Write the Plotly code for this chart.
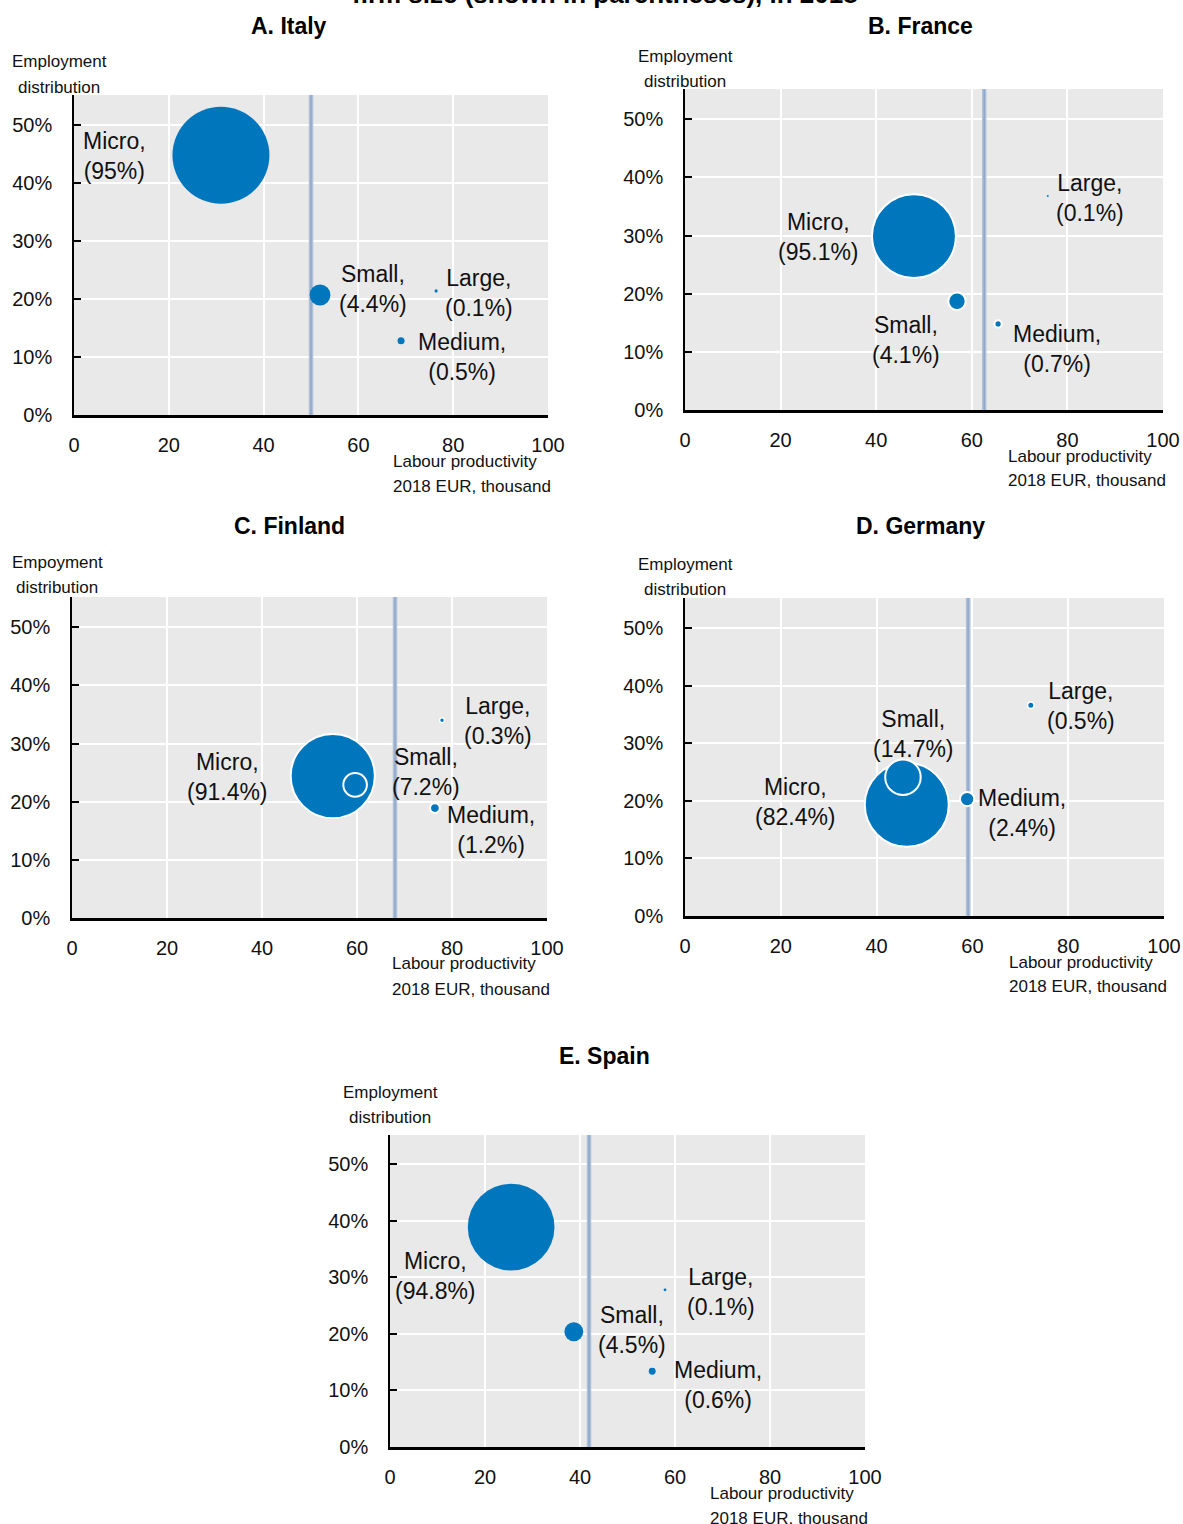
import math
import plotly.graph_objects as go

W, H = 1183, 1524

# ---------------- data ----------------
SIZE_CLASSES = ["Micro", "Small", "Medium", "Large"]
PANEL_TITLES = ["A. Italy", "B. France", "C. Finland", "D. Germany", "E. Spain"]
Y_TITLES = [["Employment", "distribution"], ["Employment", "distribution"],
            ["Empoyment", "distribution"], ["Employment", "distribution"],
            ["Employment", "distribution"]]
X_TITLE = ["Labour productivity", "2018 EUR, thousand"]
TOP_TITLE = "firm size (shown in parentheses), in 2018"
X_TICKS = [0, 20, 40, 60, 80, 100]
Y_TICKS = [0, 10, 20, 30, 40, 50]
Y_TICK_LABELS = ["0%", "10%", "20%", "30%", "40%", "50%"]

# Labour productivity, 2018 EUR thousand (Micro, Small, Medium, Large)
italy_productivity = [31.0, 51.9, 69.0, 76.4]
france_productivity = [47.9, 56.9, 65.5, 75.9]
finland_productivity = [54.9, 59.6, 76.4, 77.9]
germany_productivity = [46.3, 45.5, 58.9, 72.2]
spain_productivity = [25.5, 38.7, 55.2, 57.9]

# Employment distribution, %
italy_employment = [44.8, 20.7, 12.8, 21.4]
france_employment = [29.9, 18.7, 14.8, 36.8]
finland_employment = [24.4, 22.9, 18.9, 34.0]
germany_employment = [19.3, 24.1, 20.3, 36.6]
spain_employment = [38.9, 20.4, 13.4, 27.8]

# Share of firms, % (bubble size, shown in parentheses)
italy_firms = [95, 4.4, 0.5, 0.1]
france_firms = [95.1, 4.1, 0.7, 0.1]
finland_firms = [91.4, 7.2, 1.2, 0.3]
germany_firms = [82.4, 14.7, 2.4, 0.5]
spain_firms = [94.8, 4.5, 0.6, 0.1]

# Average labour productivity (vertical reference line)
average_productivity = [50.0, 62.6, 68.0, 59.1, 41.9]

productivity = [italy_productivity, france_productivity, finland_productivity,
                germany_productivity, spain_productivity]
employment = [italy_employment, france_employment, finland_employment,
              germany_employment, spain_employment]
firms = [italy_firms, france_firms, finland_firms, germany_firms, spain_firms]

# ---------------- style / layout ----------------
BLUE = "#0077BD"
BG = "#E9E9E9"
FONT = "Liberation Sans, Arial, sans-serif"
TXT = "#111111"

panel_px = [(74, 548, 95, 415), (685, 1163, 89, 410), (72, 547, 597, 918),
            (685, 1164, 598, 916), (390, 865, 1135, 1447)]
bubble_k = [9.95, 8.6, 8.8, 9.25, 8.9]
bubble_outline = [[0, 0, 0, 0], [2, 2, 2, 0.6], [2, 2, 2, 1.5],
                  [2, 2, 2, 1.5], [0, 0, 0, 0]]
label_offsets = [
    [(-106, 1), (53, -6), (61, 16), (43, 2)],
    [(-95, 1), (-51, 39), (59, 25), (42, 2)],
    [(-105, 1), (71, -13), (56, 22), (56, 1)],
    [(-111, -3), (11, -43), (55, 14), (50, 1)],
    [(-76, 49), (58, -2), (66, 14), (56, 2)],
]
title_px = [(289, 26), (920, 26), (289, 526), (920, 526), (604, 1056)]
ytitle_px = [(59, 74.5), (685, 69), (57, 574.5), (685, 577), (390, 1104.5)]
LINE_GAP = 25


def px(x):
    return x / W


def py(y):
    return 1 - y / H


fig = go.Figure()
annotations = []
layout = {}

for i in range(5):
    n = i + 1
    xa = "x" if n == 1 else f"x{n}"
    ya = "y" if n == 1 else f"y{n}"
    xkey = "xaxis" if n == 1 else f"xaxis{n}"
    ykey = "yaxis" if n == 1 else f"yaxis{n}"
    l, r, t, b = panel_px[i]

    # average productivity reference line (drawn under the bubbles)
    for col, wdt in (("#B0C2DB", 4.5), ("#8FA7C9", 1.5)):
        fig.add_trace(go.Scatter(
            x=[average_productivity[i], average_productivity[i]], y=[0, 55.2],
            mode="lines", xaxis=xa, yaxis=ya, showlegend=False,
            hoverinfo="skip", line=dict(color=col, width=wdt),
        ))

    k = bubble_k[i]
    fig.add_trace(go.Scatter(
        x=productivity[i], y=employment[i], mode="markers",
        xaxis=xa, yaxis=ya, showlegend=False, hoverinfo="skip",
        marker=dict(size=firms[i], sizemode="area", sizeref=2.0 / (k * k),
                    sizemin=1, color=BLUE, opacity=1,
                    line=dict(color="white", width=bubble_outline[i])),
    ))

    layout[xkey] = dict(
        domain=[px(l), px(r)], anchor=ya, range=[0, 100], automargin=False,
        tickmode="array", tickvals=X_TICKS, ticks="", showgrid=True,
        gridcolor="white", gridwidth=2, zeroline=False, showline=True,
        linecolor="black", linewidth=2.5,
        tickfont=dict(family=FONT, size=20, color=TXT),
        ticklabelstandoff=10, fixedrange=True,
    )
    layout[ykey] = dict(
        domain=[py(b), py(t)], anchor=xa, range=[0, 55.2], automargin=False,
        tickmode="array", tickvals=Y_TICKS, ticktext=Y_TICK_LABELS,
        ticks="inside", ticklen=7, tickwidth=1.5, tickcolor="black",
        showgrid=True, gridcolor="white", gridwidth=2, zeroline=False,
        showline=True, linecolor="black", linewidth=1.5,
        tickfont=dict(family=FONT, size=20, color=TXT),
        ticklabelstandoff=16, fixedrange=True,
    )

    # bubble labels
    for j, cls in enumerate(SIZE_CLASSES):
        dx, dy = label_offsets[i][j]
        annotations.append(dict(
            x=productivity[i][j], y=employment[i][j], xref=xa, yref=ya,
            text=f"{cls},<br>({firms[i][j]:g}%)", showarrow=False,
            xshift=dx, yshift=-dy, xanchor="center", yanchor="middle",
            align="center", font=dict(family=FONT, size=23, color=TXT),
        ))

    # panel title
    tx, ty = title_px[i]
    annotations.append(dict(x=px(tx), y=py(ty), xref="paper", yref="paper",
                            text=f"<b>{PANEL_TITLES[i]}</b>", showarrow=False,
                            xanchor="center", yanchor="middle",
                            font=dict(family=FONT, size=23, color="black")))
    # y-axis title (two lines)
    yx, yy = ytitle_px[i]
    for m, line in enumerate(Y_TITLES[i]):
        annotations.append(dict(
            x=px(yx), y=py(yy + (m - 0.5) * LINE_GAP), xref="paper", yref="paper",
            text=line, showarrow=False, xanchor="center", yanchor="middle",
            font=dict(family=FONT, size=17, color=TXT)))
    # x-axis title (two lines, left aligned, block ending at plot right edge)
    xl = r + 3 - 160
    for m, line in enumerate(X_TITLE):
        annotations.append(dict(
            x=px(xl), y=py(b + 58 + (m - 0.5) * LINE_GAP + 0.5), xref="paper",
            yref="paper", text=line, showarrow=False, xanchor="left",
            yanchor="middle", font=dict(family=FONT, size=17, color=TXT)))

# partially visible main title at the very top
annotations.append(dict(x=px(605), y=py(-6), xref="paper", yref="paper",
                        text=f"<b>{TOP_TITLE}</b>", showarrow=False,
                        xanchor="center", yanchor="middle",
                        font=dict(family=FONT, size=26, color="black")))

fig.update_layout(
    width=W, height=H, autosize=False, margin=dict(l=0, r=0, t=0, b=0, pad=0),
    paper_bgcolor="white", plot_bgcolor=BG,
    annotations=annotations, showlegend=False,
    **layout,
)

fig.write_html("out.html", config={"responsive": False})
